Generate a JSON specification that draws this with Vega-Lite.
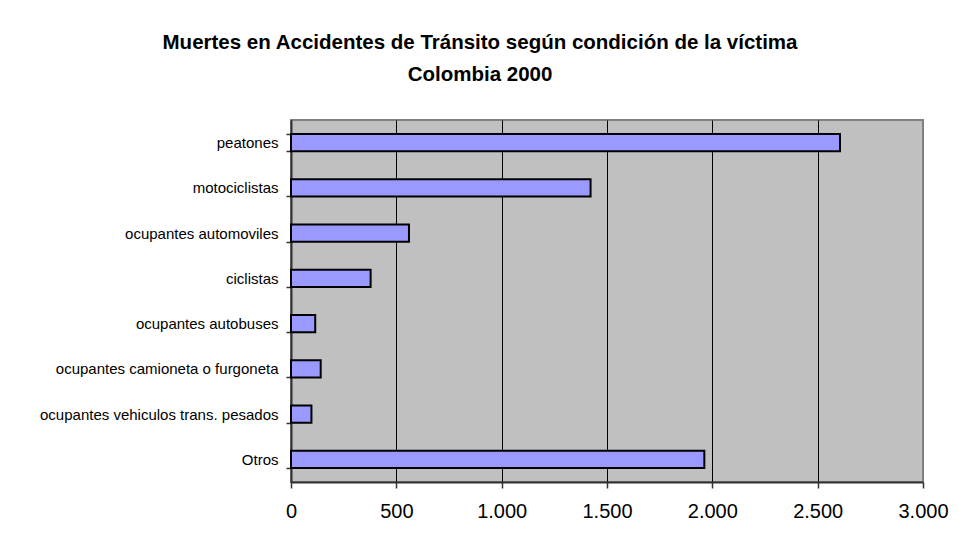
{
  "$schema": "https://vega.github.io/schema/vega-lite/v6.json",
  "autosize": {"type": "none"},
  "width": 632,
  "height": 362,
  "padding": {"left": 291, "top": 120, "right": 36, "bottom": 63},
  "background": "white",
  "title": {
    "text": ["Muertes en Accidentes de Tránsito según condición de la víctima", "Colombia 2000"],
    "anchor": "middle",
    "frame": "group",
    "dx": -127,
    "offset": 28,
    "font": "Liberation Sans",
    "fontSize": 20.5,
    "fontWeight": "bold",
    "lineHeight": 32,
    "color": "black"
  },
  "data": {
    "values": [
      {"condicion": "peatones", "muertes": 2606},
      {"condicion": "motociclistas", "muertes": 1422},
      {"condicion": "ocupantes automoviles", "muertes": 560},
      {"condicion": "ciclistas", "muertes": 378},
      {"condicion": "ocupantes autobuses", "muertes": 115},
      {"condicion": "ocupantes camioneta o furgoneta", "muertes": 141},
      {"condicion": "ocupantes vehiculos trans. pesados", "muertes": 97},
      {"condicion": "Otros", "muertes": 1962}
    ]
  },
  "mark": {"type": "bar", "fill": "#9999FF", "stroke": "black", "strokeWidth": 2},
  "encoding": {
    "y": {
      "field": "condicion",
      "type": "nominal",
      "sort": null,
      "scale": {"paddingInner": 0.62, "paddingOuter": 0.31},
      "axis": {
        "title": null,
        "tickBand": "extent",
        "grid": false,
        "domainColor": "#333333",
        "domainWidth": 2,
        "tickColor": "#333333",
        "tickSize": 5,
        "tickWidth": 1.5,
        "labelPadding": 8,
        "labelFont": "Liberation Sans",
        "labelFontSize": 15,
        "labelColor": "black",
        "labelLimit": 400
      }
    },
    "x": {
      "field": "muertes",
      "type": "quantitative",
      "scale": {"domain": [0, 3000], "nice": false},
      "axis": {
        "title": null,
        "values": [0, 500, 1000, 1500, 2000, 2500, 3000],
        "labelExpr": "replace(format(datum.value, ','), ',', '.')",
        "grid": true,
        "gridColor": {"condition": {"test": "datum.value === 3000", "value": "#808080"}, "value": "black"},
        "gridOpacity": 1,
        "gridWidth": 1,
        "domainColor": "#333333",
        "domainWidth": 2,
        "tickColor": "#333333",
        "tickSize": 6,
        "tickWidth": 1.5,
        "labelPadding": 13,
        "labelFont": "Liberation Sans",
        "labelFontSize": 20,
        "labelColor": "black",
        "labelFlush": false,
        "labelOverlap": false
      }
    }
  },
  "config": {
    "view": {"fill": "#C0C0C0", "stroke": "#808080", "strokeWidth": 2}
  }
}
